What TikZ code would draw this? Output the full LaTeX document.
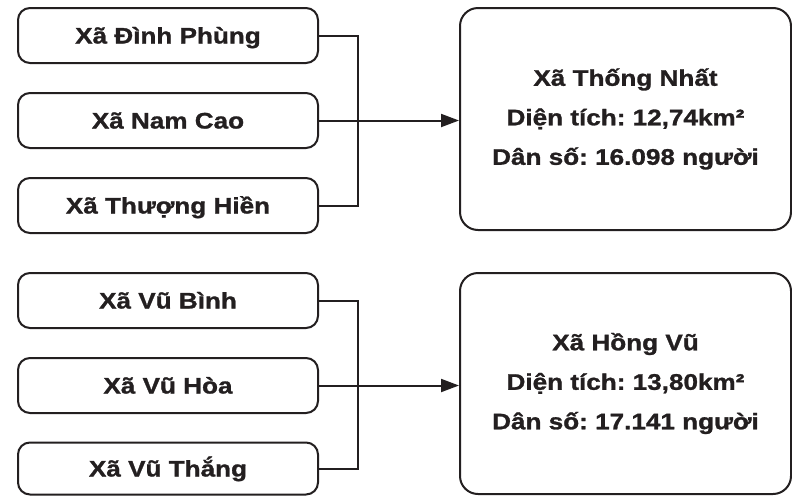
\documentclass[tikz,border=0pt]{standalone}
\usepackage{fontspec}
\setmainfont{Liberation Sans}[FakeStretch=1.16, FakeBold=1.2]
\usetikzlibrary{arrows.meta}
\definecolor{ink}{HTML}{231F20}
\frenchspacing
\tikzset{
  commune/.style={draw=ink, line width=2pt, rounded corners=12pt,
    minimum width=300pt, minimum height=55pt, inner sep=0pt,
    text=ink, font=\bfseries\fontsize{22.5}{26}\selectfont,
    text height=16pt, text depth=0pt},
  merged/.style={draw=ink, line width=2pt, rounded corners=18pt,
    minimum width=331pt, minimum height=222pt, inner sep=0pt,
    text=ink, align=center, font=\bfseries\fontsize{22.5}{39.5}\selectfont},
  link/.style={draw=ink, line width=2pt},
  arrowlink/.style={link, -{Triangle[length=18pt,width=13pt]}}
}
\begin{document}
\begin{tikzpicture}[x=1pt,y=-1pt]
\useasboundingbox[fill=white] (0,0) rectangle (792,496);
% top group
\node[commune] (b1) at (168,35.5) {Xã Đình Phùng};
\node[commune] (b2) at (168,120.5) {Xã Nam Cao};
\node[commune] (b3) at (168,205.5) {Xã Thượng Hiền};
\node[merged] (r1) at (625.5,119) {\frenchspacing Xã Thống Nhất\\Diện tích: 12,74km²\\Dân số: 16.098 người};
\coordinate (j1) at (358,120.5);
\draw[link] (b1.east) -| (j1 |- b3.east) -- (b3.east);
\draw[arrowlink] (b2.east) -- (b2.east -| r1.west);
% bottom group
\node[commune] (c1) at (168,300.5) {Xã Vũ Bình};
\node[commune] (c2) at (168,385.5) {Xã Vũ Hòa};
\node[commune, minimum height=52pt] (c3) at (168,468.5) {Xã Vũ Thắng};
\node[merged, minimum height=221pt] (r2) at (625.5,383.5) {\frenchspacing Xã Hồng Vũ\\Diện tích: 13,80km²\\Dân số: 17.141 người};
\coordinate (j2) at (358,385.5);
\draw[link] (c1.east) -| (j2 |- c3.east) -- (c3.east);
\draw[arrowlink] (c2.east) -- (c2.east -| r2.west);
\end{tikzpicture}
\end{document}
